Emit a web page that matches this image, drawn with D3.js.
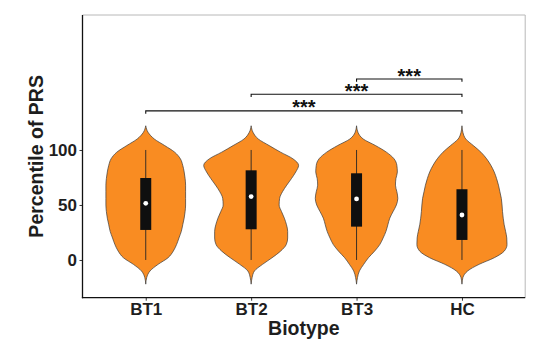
<!DOCTYPE html>
<html>
<head>
<meta charset="utf-8">
<script src="https://cdn.jsdelivr.net/npm/d3@7"></script>
<style>
  html, body { margin: 0; padding: 0; background: #fff; }
  svg { display: block; }
  text { font-family: "Liberation Sans", Arial, Helvetica, sans-serif; font-weight: bold; }
</style>
</head>
<body>
<svg id="chart" width="553" height="346"></svg>
<script>
// ---------- data ----------
const categories = ["BT1", "BT2", "BT3", "HC"];
const yTicks = [0, 50, 100];
// density evaluation grid (percentile values)
const gridY = [-22, -16, -10, -4, 2, 8, 14, 20, 26, 32, 38, 44, 50, 56, 62, 68, 74, 80, 86, 92, 98, 104, 110, 116, 122];
// relative kernel densities (max = 1)
const densBT1 = [0, 0.02, 0.09, 0.26, 0.47, 0.58, 0.65, 0.70, 0.75, 0.78, 0.81, 0.83, 0.84, 0.84, 0.84, 0.84, 0.83, 0.81, 0.78, 0.73, 0.61, 0.40, 0.18, 0.05, 0];
const densBT2 = [0, 0.02, 0.07, 0.24, 0.44, 0.62, 0.74, 0.77, 0.77, 0.745, 0.70, 0.64, 0.59, 0.60, 0.66, 0.75, 0.85, 0.94, 1.00, 0.88, 0.62, 0.38, 0.15, 0.04, 0];
const densBT3 = [0, 0.02, 0.06, 0.15, 0.25, 0.38, 0.49, 0.56, 0.62, 0.66, 0.70, 0.77, 0.84, 0.87, 0.85, 0.82, 0.83, 0.86, 0.85, 0.79, 0.63, 0.40, 0.14, 0.03, 0];
const densHC  = [0, 0.02, 0.12, 0.36, 0.68, 0.89, 0.95, 0.945, 0.92, 0.89, 0.87, 0.855, 0.845, 0.83, 0.80, 0.77, 0.73, 0.68, 0.61, 0.52, 0.40, 0.24, 0.08, 0.02, 0];
// box plot statistics
const q1 = [27.3, 27.9, 30.3, 18.2];
const medians = [51.5, 57.6, 55.5, 40.9];
const q3 = [74.5, 81.5, 78.8, 64.3];
const whiskerLow = [0, 0, 0, 0];
const whiskerHigh = [100, 100, 100, 100];
// significance comparisons
const compFrom = ["BT1", "BT2", "BT3"];
const compTo = ["HC", "HC", "HC"];
const compY = [135.5, 150.6, 164.5];
const compLabel = ["***", "***", "***"];

// ---------- layout ----------
const pLeft = 82.5, pRight = 525.2, pTop = 15, pBottom = 297.7;
const orange = "#F98C22";
const textCol = "#1e1e1e";

const svg = d3.select("#chart");

const x = d3.scalePoint().domain(categories).range([pLeft, pRight]).padding(0.6);
const step = x.step();
const y = d3.scaleLinear().domain([-34.3, 222.7]).range([pBottom, pTop]);
const wScale = d3.scaleLinear().domain([0, 1]).range([0, 0.45 * step]);

const densities = [densBT1, densBT2, densBT3, densHC];

// panel border (top/right light)
svg.append("line").attr("x1", pLeft).attr("x2", pRight).attr("y1", pTop).attr("y2", pTop)
  .attr("stroke", "#b8b8b8").attr("stroke-width", 1);
svg.append("line").attr("x1", pRight).attr("x2", pRight).attr("y1", pTop).attr("y2", pBottom)
  .attr("stroke", "#b8b8b8").attr("stroke-width", 1);

// violins
const area = d3.area()
  .curve(d3.curveMonotoneY)
  .y(d => y(d.v))
  .x0(d => d.c - wScale(d.d))
  .x1(d => d.c + wScale(d.d));

categories.forEach((cat, i) => {
  const c = x(cat);
  const pts = gridY.map((v, k) => ({ v, d: densities[i][k], c }));
  svg.append("path")
    .attr("d", area(pts))
    .attr("fill", orange)
    .attr("stroke", "#3a3a3a")
    .attr("stroke-width", 0.7);
});

// boxplots
const boxW = 11;
categories.forEach((cat, i) => {
  const c = x(cat);
  svg.append("line")
    .attr("x1", c).attr("x2", c)
    .attr("y1", y(whiskerLow[i])).attr("y2", y(whiskerHigh[i]))
    .attr("stroke", "#3b3024").attr("stroke-width", 1);
  svg.append("rect")
    .attr("x", c - boxW / 2).attr("width", boxW)
    .attr("y", y(q3[i])).attr("height", y(q1[i]) - y(q3[i]))
    .attr("fill", "#0f0f0f");
  svg.append("circle")
    .attr("cx", c).attr("cy", y(medians[i])).attr("r", 2.4)
    .attr("fill", "#fff");
});

// significance brackets
const tickLen = 2.5;
compFrom.forEach((f, i) => {
  const x1 = x(f), x2 = x(compTo[i]);
  const yy = y(compY[i]);
  const yd = y(compY[i] - tickLen);
  svg.append("path")
    .attr("d", `M${x1},${yd}L${x1},${yy}L${x2},${yy}L${x2},${yd}`)
    .attr("fill", "none").attr("stroke", "#111").attr("stroke-width", 1.1);
  svg.append("text")
    .attr("x", (x1 + x2) / 2).attr("y", yy + 3.5)
    .attr("text-anchor", "middle")
    .attr("font-size", 20)
    .attr("fill", "#111")
    .text(compLabel[i]);
});

// axes
const yAxis = svg.append("g")
  .attr("transform", `translate(${pLeft},0)`)
  .call(d3.axisLeft(y).tickValues(yTicks).tickSize(3).tickPadding(2.5));
yAxis.select(".domain").remove();
yAxis.selectAll("line").attr("stroke", "#333").attr("stroke-width", 1);
yAxis.selectAll("text").attr("font-size", 17).attr("fill", textCol)
  .style("font-family", "'Liberation Sans', Arial, sans-serif").style("font-weight", "bold");

const xAxis = svg.append("g")
  .attr("transform", `translate(0,${pBottom})`)
  .call(d3.axisBottom(x).tickSize(3).tickPadding(2.6));
xAxis.select(".domain").remove();
xAxis.selectAll("line").attr("stroke", "#333").attr("stroke-width", 1);
xAxis.selectAll("text").attr("font-size", 17).attr("fill", textCol)
  .style("font-family", "'Liberation Sans', Arial, sans-serif").style("font-weight", "bold");

// axis lines
svg.append("line").attr("x1", pLeft).attr("x2", pLeft).attr("y1", pTop).attr("y2", pBottom + 0.6)
  .attr("stroke", "#111").attr("stroke-width", 1.3);
svg.append("line").attr("x1", pLeft - 0.6).attr("x2", pRight).attr("y1", pBottom).attr("y2", pBottom)
  .attr("stroke", "#111").attr("stroke-width", 1.3);

// axis titles
svg.append("text")
  .attr("x", (pLeft + pRight) / 2).attr("y", 335)
  .attr("text-anchor", "middle").attr("font-size", 19.5).attr("fill", textCol)
  .text("Biotype");
svg.append("text")
  .attr("transform", `translate(43,${(pTop + pBottom) / 2}) rotate(-90)`)
  .attr("text-anchor", "middle").attr("font-size", 19.5).attr("fill", textCol)
  .text("Percentile of PRS");
</script>
</body>
</html>
